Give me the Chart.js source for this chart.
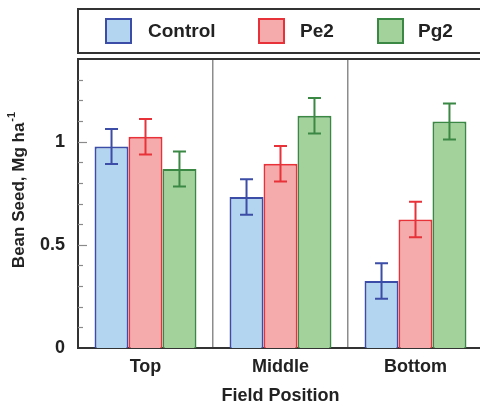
<!DOCTYPE html>
<html>
<head>
<meta charset="utf-8">
<script src="https://cdn.jsdelivr.net/npm/chart.js@4"></script>
<style>
  html, body { margin: 0; padding: 0; background: #fff; overflow: hidden; }
  #wrap { width: 484px; height: 408px; }
</style>
</head>
<body>
<div id="wrap"><canvas id="beanChart" width="484" height="408"></canvas></div>
<script>
// data
const positions = ['Top', 'Middle', 'Bottom'];
const seriesNames = ['Control', 'Pe2', 'Pg2'];
const controlYield = [0.976, 0.731, 0.325];
const pe2Yield = [1.023, 0.892, 0.623];
const pg2Yield = [0.867, 1.125, 1.097];
const controlErr = [0.085, 0.086, 0.086];
const pe2Err = [0.086, 0.086, 0.086];
const pg2Err = [0.085, 0.086, 0.087];
const yTicks = [0, 0.5, 1];

const FONT = "'Liberation Sans', Arial, sans-serif";
const fills = ['#b4d5ef', '#f5abab', '#a3d39b'];
const edges = ['#3b4da6', '#e8323a', '#3b8744'];

// error bars, drawn from the bar elements + y scale
const errorBars = {
  id: 'errorBars',
  afterDatasetsDraw(chart) {
    const ctx = chart.ctx;
    const y = chart.scales.y;
    chart.data.datasets.forEach((ds, i) => {
      chart.getDatasetMeta(i).data.forEach((bar, j) => {
        const hi = y.getPixelForValue(ds.data[j] + ds.errors[j]);
        const lo = y.getPixelForValue(ds.data[j] - ds.errors[j]);
        ctx.save();
        ctx.strokeStyle = ds.borderColor;
        ctx.lineWidth = 2;
        ctx.beginPath();
        ctx.moveTo(bar.x, hi); ctx.lineTo(bar.x, lo);
        ctx.moveTo(bar.x - 6.5, hi); ctx.lineTo(bar.x + 6.5, hi);
        ctx.moveTo(bar.x - 6.5, lo); ctx.lineTo(bar.x + 6.5, lo);
        ctx.stroke();
        ctx.restore();
      });
    });
  }
};

// frame, inner minor ticks, y title with superscript, boxed legend
const decorations = {
  id: 'decorations',
  afterDraw(chart) {
    const ctx = chart.ctx;
    const area = chart.chartArea;
    const y = chart.scales.y;
    ctx.save();

    // top frame line
    ctx.strokeStyle = '#333';
    ctx.lineWidth = 2;
    ctx.beginPath();
    ctx.moveTo(area.left - 1, area.top);
    ctx.lineTo(area.right + 2, area.top);
    ctx.stroke();

    // inward ticks every 0.1
    ctx.strokeStyle = '#8a8a8a';
    ctx.lineWidth = 1.2;
    for (let k = 1; k <= 13; k++) {
      const py = Math.round(y.getPixelForValue(k / 10)) + 0.5;
      const len = k % 5 === 0 ? 9 : 5;
      ctx.beginPath();
      ctx.moveTo(area.left, py);
      ctx.lineTo(area.left + len, py);
      ctx.stroke();
    }

    // y axis title
    ctx.fillStyle = '#222';
    ctx.translate(19, (area.top + area.bottom) / 2 - 13);
    ctx.rotate(-Math.PI / 2);
    ctx.textBaseline = 'middle';
    const main = 'Bean Seed, Mg ha';
    ctx.font = 'bold 17px ' + FONT;
    const w1 = ctx.measureText(main).width;
    ctx.font = 'bold 11px ' + FONT;
    const w2 = ctx.measureText('-1').width;
    const x0 = -(w1 + w2) / 2;
    ctx.font = 'bold 17px ' + FONT;
    ctx.textAlign = 'left';
    ctx.fillText(main, x0, 0);
    ctx.font = 'bold 11px ' + FONT;
    ctx.fillText('-1', x0 + w1 + 1, -7);
    ctx.setTransform(1, 0, 0, 1, 0, 0);

    // legend
    ctx.strokeStyle = '#333';
    ctx.lineWidth = 2;
    ctx.strokeRect(78, 9, 440, 44);
    const boxX = [106, 259, 378];
    const textX = [148, 300, 418];
    chart.data.datasets.forEach((ds, i) => {
      ctx.fillStyle = ds.backgroundColor;
      ctx.fillRect(boxX[i], 19, 25, 24);
      ctx.strokeStyle = ds.borderColor;
      ctx.lineWidth = 2;
      ctx.strokeRect(boxX[i], 19, 25, 24);
      ctx.fillStyle = '#222';
      ctx.font = 'bold 19px ' + FONT;
      ctx.textAlign = 'left';
      ctx.textBaseline = 'middle';
      ctx.fillText(ds.label, textX[i], 32);
    });
    ctx.restore();
  }
};

const values = [controlYield, pe2Yield, pg2Yield];
const errs = [controlErr, pe2Err, pg2Err];

new Chart(document.getElementById('beanChart'), {
  type: 'bar',
  data: {
    labels: positions,
    datasets: seriesNames.map((name, i) => ({
      label: name,
      data: values[i],
      errors: errs[i],
      backgroundColor: fills[i],
      borderColor: edges[i],
      borderWidth: 2,
      borderSkipped: 'start',
      categoryPercentage: 0.755,
      barPercentage: 1.0
    }))
  },
  options: {
    responsive: false,
    animation: false,
    layout: { padding: { top: 59, right: 1, left: 0, bottom: 0 } },
    plugins: { legend: { display: false }, tooltip: { enabled: false } },
    scales: {
      x: {
        grid: { display: true, offset: true, drawTicks: false, color: '#8c8c8c', lineWidth: 1.5 },
        border: { display: true, color: '#333', width: 2 },
        ticks: { color: '#222', padding: 8, font: { family: FONT, size: 18, weight: 'bold' } },
        title: {
          display: true, text: 'Field Position', color: '#222',
          font: { family: FONT, size: 18, weight: 'bold' },
          padding: { top: 0, bottom: 1 }
        },
        afterFit(s) { s.height = 60; }
      },
      y: {
        min: 0,
        max: 1.4,
        afterBuildTicks(s) { s.ticks = yTicks.map(v => ({ value: v })); },
        grid: { display: false, drawTicks: false },
        border: { display: true, color: '#333', width: 2 },
        ticks: {
          color: '#222', padding: 13,
          font: { family: FONT, size: 18, weight: 'bold' },
          callback: v => String(v)
        },
        afterFit(s) { s.width = 78; }
      }
    }
  },
  plugins: [errorBars, decorations]
});
</script>
</body>
</html>
